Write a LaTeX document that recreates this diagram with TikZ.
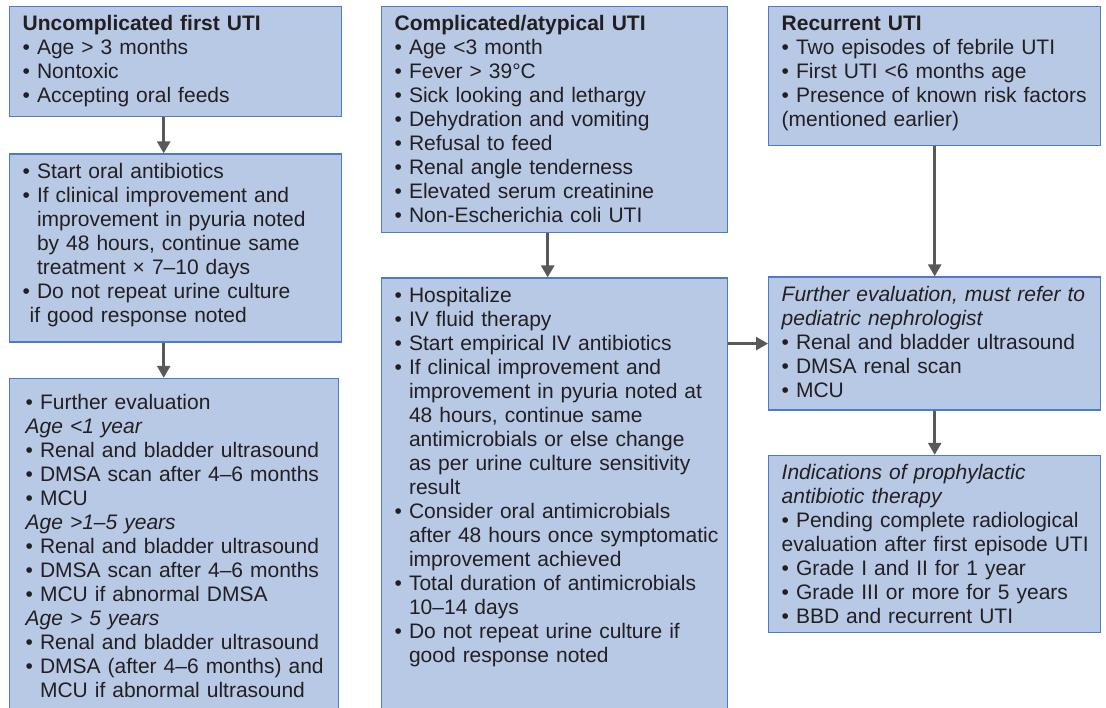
\documentclass[tikz,border=0pt]{standalone}
\usepackage{fontspec}
\setmainfont{Liberation Sans}
\usepackage{tikz}
\usetikzlibrary{arrows.meta,positioning}

\definecolor{boxfill}{HTML}{B8C9E6}
\definecolor{boxline}{HTML}{4F7AC7}
\definecolor{arrgray}{HTML}{595959}
\definecolor{txtcol}{HTML}{231F20}

\newcommand{\itm}{\textbullet\ }
\newcommand{\cont}{\hphantom{\textbullet\ }}

\begin{document}
\begin{tikzpicture}[
  x=1pt, y=-1pt,
  font=\fontsize{21}{24}\selectfont,
  >={Triangle[width=13pt,length=12pt]},
  textindent/.style={execute at begin node={\leftskip=#1\rightskip=-8pt plus 1fil}},
  flowbox/.style={
    draw=boxline, line width=1.4pt, fill=boxfill, text=txtcol,
    anchor=north west, align=left, textindent=9pt,
    inner xsep=4pt, inner ysep=10pt, text height=14pt
  },
  narrowbox/.style={flowbox, text width=324pt},
  widebox/.style={flowbox, text width=338pt},
  arr/.style={->, draw=arrgray, fill=arrgray, line width=2.6pt}
]

\useasboundingbox (0,0) rectangle (1106,707);
\clip (0,0) rectangle (1106,707);

% Uncomplicated first UTI
\node[narrowbox, text depth=76pt] (u1) at (9,6) {
  \textbf{Uncomplicated first UTI}\\
  \itm Age > 3 months\\
  \itm Nontoxic\\
  \itm Accepting oral feeds
};

\node[narrowbox, text depth=154pt, below=36pt of u1] (u2) {
  \itm Start oral antibiotics\\
  \itm If clinical improvement and\\
  \cont improvement in pyuria noted\\
  \cont by 48 hours, continue same\\
  \cont treatment × 7–10 days\\
  \itm Do not repeat urine culture\\
  \hspace*{7pt}if good response noted
};

\node[narrowbox, text width=321pt, textindent=12pt, text height=21pt, text depth=320pt,
      below=35pt of u2.south west, anchor=north west] (u3) {
  \itm Further evaluation\\
  \textit{Age <1 year}\\
  \itm Renal and bladder ultrasound\\
  \itm DMSA scan after 4–6 months\\
  \itm MCU\\
  \textit{Age >1–5 years}\\
  \itm Renal and bladder ultrasound\\
  \itm DMSA scan after 4–6 months\\
  \itm MCU if abnormal DMSA\\
  \textit{Age > 5 years}\\
  \itm Renal and bladder ultrasound\\
  \itm DMSA (after 4–6 months) and\\
  \cont MCU if abnormal ultrasound
};

% Complicated/atypical UTI
\node[widebox, text depth=192pt] (c1) at (381,6) {
  \textbf{Complicated/atypical UTI}\\
  \itm Age <3 month\\
  \itm Fever > 39°C\\
  \itm Sick looking and lethargy\\
  \itm Dehydration and vomiting\\
  \itm Refusal to feed\\
  \itm Renal angle tenderness\\
  \itm Elevated serum creatinine\\
  \itm Non-Escherichia coli UTI
};

\node[widebox, text depth=416pt, below=44pt of c1] (c2) {
  \itm Hospitalize\\
  \itm IV fluid therapy\\
  \itm Start empirical IV antibiotics\\
  \itm If clinical improvement and\\
  \cont improvement in pyuria noted at\\
  \cont 48 hours, continue same\\
  \cont antimicrobials or else change\\
  \cont as per urine culture sensitivity\\
  \cont result\\
  \itm Consider oral antimicrobials\\
  \cont after 48 hours once symptomatic\\
  \cont improvement achieved\\
  \itm Total duration of antimicrobials\\
  \cont 10–14 days\\
  \itm Do not repeat urine culture if\\
  \cont good response noted
};

% Recurrent UTI
\node[narrowbox, text depth=105pt] (r1) at (768,6) {
  \textbf{Recurrent UTI}\\
  \itm Two episodes of febrile UTI\\
  \itm First UTI <6 months age\\
  \itm Presence of known risk factors\\
  (mentioned earlier)
};

\node[narrowbox, text depth=99pt, below=130pt of r1] (r2) {
  \textit{Further evaluation, must refer to}\\
  \textit{pediatric nephrologist}\\
  \itm Renal and bladder ultrasound\\
  \itm DMSA renal scan\\
  \itm MCU
};

\node[narrowbox, text depth=143pt, below=44pt of r2] (r3) {
  \textit{Indications of prophylactic}\\
  \textit{antibiotic therapy}\\
  \itm Pending complete radiological\\
  evaluation after first episode UTI\\
  \itm Grade I and II for 1 year\\
  \itm Grade III or more for 5 years\\
  \itm BBD and recurrent UTI
};

% Arrows
\draw[arr] ([xshift=-12pt]u1.south) -- ([xshift=-12pt]u2.north);
\draw[arr] ([xshift=-12pt]u2.south) -- ([xshift=-12pt]u2.south |- u3.north);
\draw[arr] ([xshift=-7pt]c1.south) -- ([xshift=-7pt]c2.north);
\draw[arr] (r1.south) -- (r2.north);
\draw[arr] (r2.south) -- (r3.north);
\draw[arr] (c2.east |- r2.west) -- (r2.west);

\end{tikzpicture}
\end{document}
